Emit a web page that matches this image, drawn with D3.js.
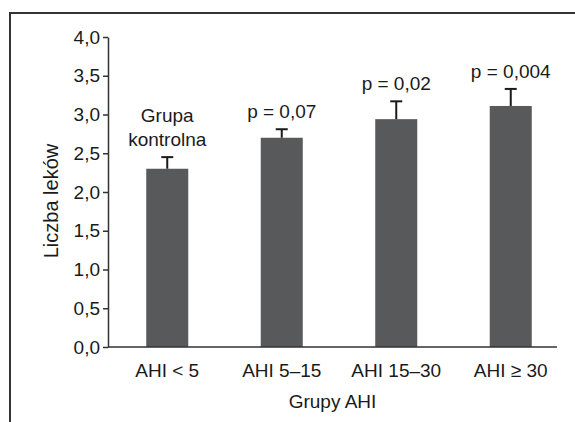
<!DOCTYPE html>
<html>
<head>
<meta charset="utf-8">
<script src="https://cdn.jsdelivr.net/npm/d3@7"></script>
<style>
  html, body { margin: 0; padding: 0; background: #fff; }
  svg { display: block; }
  text { font-family: "Liberation Sans", Arial, sans-serif; fill: #1a1a1a; }
</style>
</head>
<body>
<svg id="chart" width="575" height="422"></svg>
<script>
const categories = ["AHI < 5", "AHI 5\u201315", "AHI 15\u201330", "AHI \u2265 30"];
const means = [2.30, 2.70, 2.94, 3.11];
const errors = [0.15, 0.11, 0.23, 0.22];
const barLabels = [["Grupa", "kontrolna"], ["p = 0,07"], ["p = 0,02"], ["p = 0,004"]];
const yTicks = [0, 0.5, 1.0, 1.5, 2.0, 2.5, 3.0, 3.5, 4.0];
const yTitle = "Liczba leków";
const xTitle = "Grupy AHI";

const svg = d3.select("#chart");
const W = 575, H = 422;
const axisLeftX = 108, axisRightX = 557;
const FS = 19;

// frame
svg.append("path")
  .attr("d", `M10,${H} V13 H${W}`)
  .attr("fill", "none").attr("stroke", "#333").attr("stroke-width", 2);

const y = d3.scaleLinear().domain([0, 4]).range([347, 37]);
const x = d3.scaleBand().domain(categories).range([110, 568])
  .paddingInner(0.633).paddingOuter(0.3165);

// bars
svg.append("g").selectAll("rect").data(categories).join("rect")
  .attr("x", d => x(d))
  .attr("width", x.bandwidth())
  .attr("y", (d, i) => y(means[i]))
  .attr("height", (d, i) => y(0) - y(means[i]))
  .attr("fill", "#58595b");

// error bars
const eg = svg.append("g").attr("stroke", "#1a1a1a").attr("stroke-width", 2);
categories.forEach((c, i) => {
  const cx = x(c) + x.bandwidth() / 2;
  eg.append("line").attr("x1", cx).attr("x2", cx)
    .attr("y1", y(means[i])).attr("y2", y(means[i] + errors[i]));
  eg.append("line").attr("x1", cx - 6).attr("x2", cx + 6)
    .attr("y1", y(means[i] + errors[i])).attr("y2", y(means[i] + errors[i]));
});

// bar labels
categories.forEach((c, i) => {
  const cx = x(c) + x.bandwidth() / 2;
  const lines = barLabels[i];
  const base = y(means[i] + errors[i]) - 11;
  lines.forEach((t, j) => {
    svg.append("text")
      .attr("x", cx)
      .attr("y", base - (lines.length - 1 - j) * 24)
      .attr("text-anchor", "middle")
      .attr("font-size", FS)
      .text(t);
  });
});

// y axis
const yAxis = svg.append("g").attr("transform", `translate(${axisLeftX},0)`)
  .call(d3.axisLeft(y).tickValues(yTicks).tickSize(5).tickPadding(3).tickSizeOuter(0)
    .tickFormat(d => d.toFixed(1).replace(".", ",")));
yAxis.select(".domain").attr("stroke", "#333").attr("stroke-width", 1.5);
yAxis.selectAll(".tick line").attr("stroke", "#333").attr("stroke-width", 1.5);
yAxis.selectAll(".tick text").attr("font-size", FS)
  .attr("fill", "#1a1a1a").attr("font-family", null);

// x axis
const xAxis = svg.append("g").attr("transform", `translate(0,${y(0)})`)
  .call(d3.axisBottom(x).tickSize(0).tickPadding(17));
xAxis.select(".domain").remove();
xAxis.selectAll(".tick text").attr("font-size", FS)
  .attr("fill", "#1a1a1a").attr("font-family", null).attr("dy", "0.71em");
svg.append("line")
  .attr("x1", axisLeftX).attr("x2", axisRightX)
  .attr("y1", y(0)).attr("y2", y(0))
  .attr("stroke", "#333").attr("stroke-width", 1.5);

// titles
svg.append("text")
  .attr("x", (axisLeftX + axisRightX) / 2).attr("y", 408)
  .attr("text-anchor", "middle").attr("font-size", FS)
  .text(xTitle);
svg.append("text")
  .attr("transform", `translate(58,201) rotate(-90)`)
  .attr("text-anchor", "middle").attr("font-size", 20)
  .text(yTitle);
</script>
</body>
</html>
